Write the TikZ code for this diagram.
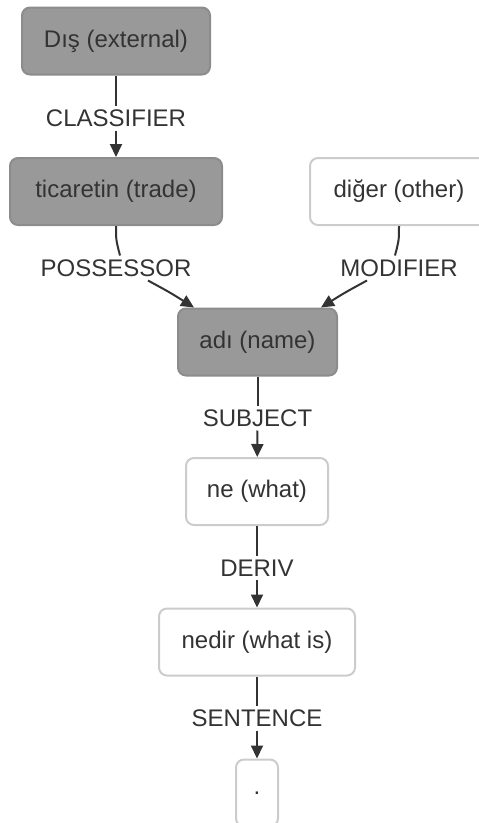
\documentclass[tikz,border=0pt]{standalone}
\usepackage{fontspec}
\setmainfont{Liberation Sans}
\usetikzlibrary{arrows.meta}

\begin{document}
\begin{tikzpicture}[x=1pt, y=-1pt, line width=2pt]
		% Defines colors to match the image
		\definecolor{headfill}{RGB}{153, 153, 153} % gray boxes
		\definecolor{headdraw}{RGB}{140, 140, 140}
		\definecolor{plaindraw}{RGB}{204, 204, 204} % light outline
		\definecolor{inkgray}{RGB}{51, 51, 51} % text and edges
		
		\tikzset{
			word/.style={rounded corners=8pt, minimum height=67pt, inner sep=0pt,
				text=inkgray, font=\fontsize{24}{28}\selectfont},
			headword/.style={word, fill=headfill, draw=headdraw},
			plainword/.style={word, fill=white, draw=plaindraw},
			rel/.style={text=inkgray, inner sep=3pt, font=\fontsize{24}{28}\selectfont},
			link/.style={draw=inkgray},
			linkarrow/.style={draw=inkgray, -{Triangle[length=13pt, width=12pt]}}
		}
		
		% Picture frame (the right and bottom boxes are cut off)
		\clip (0,0) rectangle (479,823);
		
		% --- Words ---
		\node[headword, minimum width=188pt] (dis) at (116, 41) {Dış (external)};
		\node[headword, minimum width=212pt] (ticaret) at (116, 191.5) {ticaretin (trade)};
		\node[plainword, minimum width=178pt] (diger) at (399, 191.5) {diğer (other)};
		\node[headword, minimum width=159pt] (adi) at (257.5, 342) {adı (name)};
		\node[plainword, minimum width=142pt] (ne) at (257, 491.5) {ne (what)};
		\node[plainword, minimum width=196pt] (nedir) at (257, 642) {nedir (what is)};
		\node[plainword, minimum width=42pt] (dot) at (257, 793) {.};
		
		% --- Relation labels ---
		\node[rel] (lblclass) at (116, 118) {CLASSIFIER};
		\node[rel] (lblposs) at (116, 268) {POSSESSOR};
		\node[rel] (lblmod) at (399, 268) {MODIFIER};
		\node[rel] (lblsubj) at (257.5, 418) {SUBJECT};
		\node[rel] (lblderiv) at (257, 568) {DERIV};
		\node[rel] (lblsent) at (257, 718) {SENTENCE};
		
		% --- Edges ---
		\draw[link] (dis) -- (lblclass);
		\draw[linkarrow] (lblclass) -- (ticaret);
		
		\draw[link] (ticaret.south) .. controls +(0,14) .. ([xshift=4pt]lblposs.north);
		\draw[linkarrow] ([xshift=32pt]lblposs.south) .. controls +(22,12) .. ([xshift=17pt]adi.north west);
		
		\draw[link] (diger.south) .. controls +(0,14) .. ([xshift=-4pt]lblmod.north);
		\draw[linkarrow] ([xshift=-32pt]lblmod.south) .. controls +(-22,12) .. ([xshift=-17pt]adi.north east);
		
		\draw[link] (adi) -- (lblsubj);
		\draw[linkarrow] (lblsubj) -- (ne);
		
		\draw[link] (ne) -- (lblderiv);
		\draw[linkarrow] (lblderiv) -- (nedir);
		
		\draw[link] (nedir) -- (lblsent);
		\draw[linkarrow] (lblsent) -- (dot);
		
	\end{tikzpicture}
\end{document}
